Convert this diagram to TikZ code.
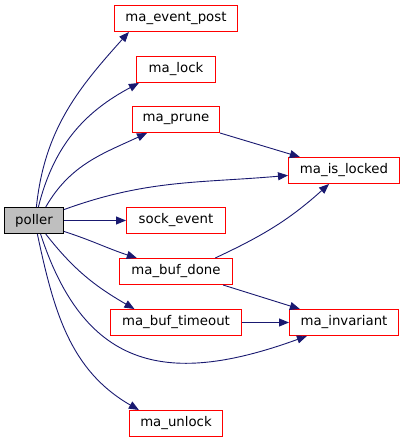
\documentclass[tikz,border=0pt]{standalone}
\usepackage{fontspec}
\setmainfont{DejaVu Sans}
\usetikzlibrary{arrows.meta}
\definecolor{edgeblue}{HTML}{191970}
\definecolor{boxred}{HTML}{FF0000}
\definecolor{rootgray}{HTML}{BFBFBF}
\tikzset{call/.style={-{Triangle[length=10pt,width=8pt]}, draw=edgeblue, line width=0.9pt},
  fn/.style={draw=boxred, line width=1pt, fill=white, minimum height=26pt, inner sep=0pt},
  root/.style={fn, draw=black, fill=rootgray}}

\begin{document}
\fontsize{13.3}{16}\selectfont
\begin{tikzpicture}[x=1pt, y=1pt]
  \useasboundingbox (0,0) rectangle (405,-443);
  % caller
  \node[root, minimum width=59pt] (poller) at (34,-220.5) {poller};
  % callees, first rank
  \node[fn, minimum width=123pt] (post) at (176,-18.5) {ma\_event\_post};
  \node[fn, minimum width=79pt] (lock) at (176,-69.5) {ma\_lock};
  \node[fn, minimum width=87pt] (prune) at (176,-119.5) {ma\_prune};
  \node[fn, minimum width=99pt] (sock) at (176,-220.5) {sock\_event};
  \node[fn, minimum width=113pt] (bufdone) at (176,-271.5) {ma\_buf\_done};
  \node[fn, minimum width=131pt] (buftimeout) at (176,-322.5) {ma\_buf\_timeout};
  \node[fn, minimum width=93pt] (unlock) at (176,-423.5) {ma\_unlock};
  % callees, second rank
  \node[fn, minimum width=111pt] (islocked) at (344,-170.5) {ma\_is\_locked};
  \node[fn, minimum width=109pt] (invariant) at (344,-322.5) {ma\_invariant};
  % calls from poller
  \draw[call] (poller.80) to[out=84, in=228] (post.196);
  \draw[call] (poller.72) to[out=76, in=208] (lock.200);
  \draw[call] (poller.49) to[out=60, in=205] (prune.205);
  \draw[call] (poller.20) to[out=20, in=185] (islocked.185);
  \draw[call] (poller.east) -- (sock.west);
  \draw[call] (poller.-20) to[out=-18, in=162] (bufdone.161);
  \draw[call] (poller.-49) to[out=-52, in=150] (buftimeout.162);
  \draw[call] (poller.-64) to[out=-72, in=200, looseness=1.3] (invariant.200);
  \draw[call] (poller.-76) to[out=-78, in=150] (unlock.160);
  % calls between callees
  \draw[call] (prune.south east) -- (islocked.163);
  \draw[call] (bufdone.19) to[out=25, in=222] (islocked.222);
  \draw[call] (bufdone.-16) -- (invariant.163);
  \draw[call] (buftimeout.east) -- (invariant.west);
\end{tikzpicture}
\end{document}
